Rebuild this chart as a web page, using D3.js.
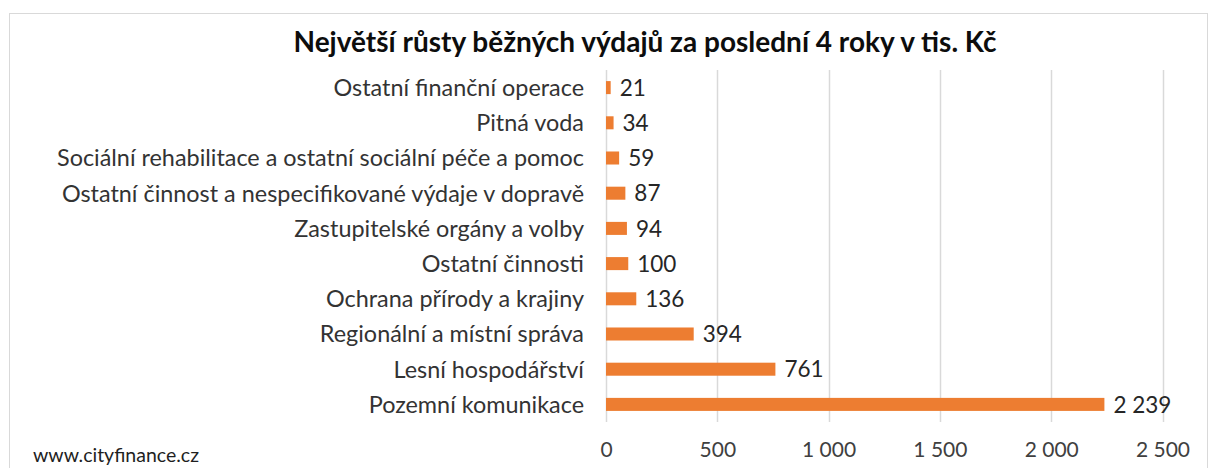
<!DOCTYPE html>
<html>
<head>
<meta charset="utf-8">
<script src="https://cdn.jsdelivr.net/npm/d3@7"></script>
<style>
  body { margin: 0; background: #fff; }
  svg text { font-family: Lato, "Open Sans", sans-serif; }
</style>
</head>
<body>
<svg id="chart" width="1209" height="468"></svg>
<script>
// categories top to bottom, as in the picture
var categories = [
  'Ostatní finanční operace',
  'Pitná voda',
  'Sociální rehabilitace a ostatní sociální péče a pomoc',
  'Ostatní činnost a nespecifikované výdaje v dopravě',
  'Zastupitelské orgány a volby',
  'Ostatní činnosti',
  'Ochrana přírody a krajiny',
  'Regionální a místní správa',
  'Lesní hospodářství',
  'Pozemní komunikace'
];

var values = [21, 34, 59, 87, 94, 100, 136, 394, 761, 2239];

var tickValues = [0, 500, 1000, 1500, 2000, 2500];

var title = 'Největší růsty běžných výdajů za poslední 4 roky v tis. Kč';
var footer = 'www.cityfinance.cz';

var svg = d3.select('#chart');

// czech number format, space as thousands separator
var cz = d3.formatLocale({decimal: ',', thousands: '\u00a0', grouping: [3], currency: ['', ' Kč']});
var fmt = cz.format(',d');

// outer chart border (excel style)
svg.append('rect')
  .attr('x', 9.5).attr('y', 13.5)
  .attr('width', 1198).attr('height', 470)
  .attr('fill', 'none')
  .attr('stroke', '#d9d9d9');

var x = d3.scaleLinear().domain([0, 2500]).range([606, 1162.5]);

var y = d3.scaleBand()
  .domain(categories)
  .range([70, 422])
  .paddingInner(0.63)
  .paddingOuter(0.315);

// vertical gridlines
svg.append('g')
  .selectAll('line')
  .data(tickValues)
  .join('line')
    .attr('x1', function(d) { return Math.round(x(d)) + 0.5; })
    .attr('x2', function(d) { return Math.round(x(d)) + 0.5; })
    .attr('y1', 70)
    .attr('y2', 422)
    .attr('stroke', '#d9d9d9')
    .attr('stroke-width', 1.5);

// bars
svg.append('g')
  .selectAll('rect')
  .data(values)
  .join('rect')
    .attr('x', x(0))
    .attr('y', function(d, i) { return y(categories[i]); })
    .attr('width', function(d) { return x(d) - x(0); })
    .attr('height', y.bandwidth())
    .attr('fill', '#ED7D31');

// value labels
svg.append('g')
  .selectAll('text')
  .data(values)
  .join('text')
    .attr('x', function(d) { return x(d) + 9; })
    .attr('y', function(d, i) { return y(categories[i]) + y.bandwidth() / 2; })
    .attr('dy', '0.36em')
    .attr('font-size', 22.5)
    .attr('fill', '#262626')
    .text(function(d) { return fmt(d); });

// category labels
svg.append('g')
  .selectAll('text')
  .data(categories)
  .join('text')
    .attr('x', 584)
    .attr('y', function(d) { return y(d) + y.bandwidth() / 2; })
    .attr('dy', '0.36em')
    .attr('text-anchor', 'end')
    .attr('font-size', 23.4)
    .attr('fill', '#333333')
    .text(function(d) { return d; });

// x axis tick labels
var axis = d3.axisBottom(x)
  .tickValues(tickValues)
  .tickSize(0)
  .tickPadding(0)
  .tickFormat(fmt);

var ax = svg.append('g')
  .attr('transform', 'translate(0,442)')
  .call(axis);
ax.select('.domain').remove();
ax.selectAll('text')
  .attr('font-size', 21)
  .attr('fill', '#404040')
  .style('font-family', 'Lato, sans-serif');

// title
svg.append('text')
  .attr('x', 645)
  .attr('y', 52)
  .attr('text-anchor', 'middle')
  .attr('font-size', 28)
  .attr('font-weight', 'bold')
  .attr('fill', '#0d0d0d')
  .text(title);

// footer
svg.append('text')
  .attr('x', 33)
  .attr('y', 462)
  .attr('font-size', 19.5)
  .attr('fill', '#1f1f1f')
  .text(footer);
</script>
</body>
</html>
